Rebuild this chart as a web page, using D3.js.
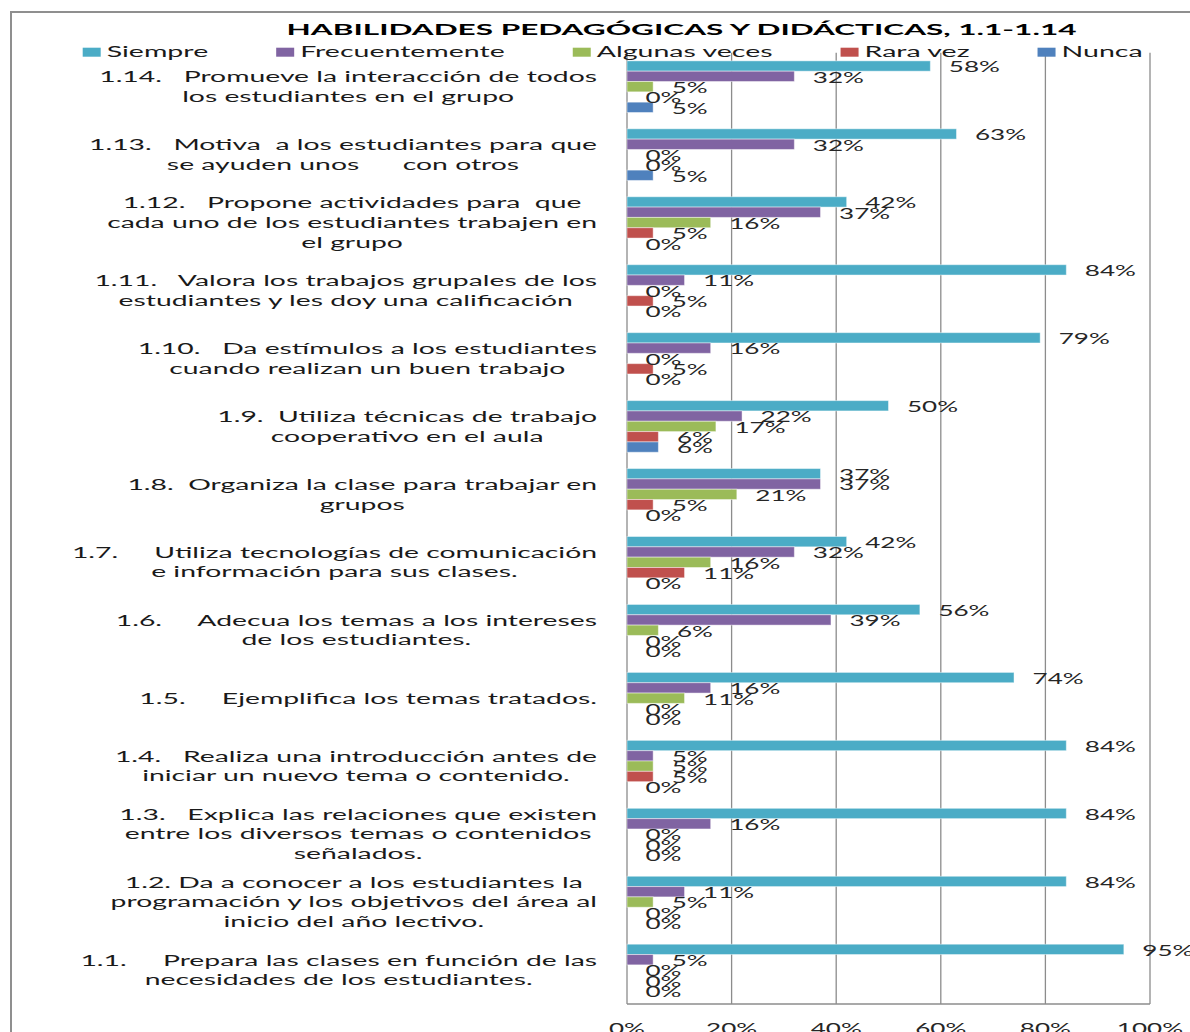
<!DOCTYPE html>
<html>
<head>
<meta charset="utf-8">
<script src="https://cdn.jsdelivr.net/npm/d3@7"></script>
<style>
html,body{margin:0;padding:0;background:#fff;overflow:hidden;}
text{white-space:pre;}
</style>
</head>
<body>
<svg id="chart" width="1190" height="1032"></svg>
<script>
// ---------- DATA ----------
const categories = ["1.14","1.13","1.12","1.11","1.10","1.9","1.8","1.7","1.6","1.5","1.4","1.3","1.2","1.1"];
const categoryLabels = [
  ["1.14.   Promueve la interacción de todos","los estudiantes en el grupo"],
  ["1.13.   Motiva  a los estudiantes para que","se ayuden unos      con otros"],
  ["1.12.   Propone actividades para  que","cada uno de los estudiantes trabajen en","el grupo"],
  ["1.11.   Valora los trabajos grupales de los","estudiantes y les doy una calificación"],
  ["1.10.   Da estímulos a los estudiantes","cuando realizan un buen trabajo"],
  ["1.9.  Utiliza técnicas de trabajo","cooperativo en el aula"],
  ["1.8.  Organiza la clase para trabajar en","grupos"],
  ["1.7.     Utiliza tecnologías de comunicación","e información para sus clases."],
  ["1.6.     Adecua los temas a los intereses","de los estudiantes."],
  ["1.5.     Ejemplifica los temas tratados."],
  ["1.4.   Realiza una introducción antes de","iniciar un nuevo tema o contenido."],
  ["1.3.   Explica las relaciones que existen","entre los diversos temas o contenidos","señalados."],
  ["1.2. Da a conocer a los estudiantes la","programación y los objetivos del área al","inicio del año lectivo."],
  ["1.1.     Prepara las clases en función de las","necesidades de los estudiantes."]
];
const seriesNames = ["Siempre","Frecuentemente","Algunas veces","Rara vez","Nunca"];
const siempre        = [58,63,42,84,79,50,37,42,56,74,84,84,84,95];
const frecuentemente = [32,32,37,11,16,22,37,32,39,16, 5,16,11, 5];
const algunasVeces   = [ 5, 0,16, 0, 0,17,21,16, 6,11, 5, 0, 5, 0];
const raraVez        = [ 0, 0, 5, 5, 5, 6, 5,11, 0, 0, 5, 0, 0, 0];
const nunca          = [ 5, 5, 0, 0, 0, 6, 0, 0, 0, 0, 0, 0, 0, 0];
const xTicks = [0,20,40,60,80,100];
const titleText = "HABILIDADES PEDAGÓGICAS Y DIDÁCTICAS, 1.1-1.14";

const seriesValues = [siempre, frecuentemente, algunasVeces, raraVez, nunca];
const colors = ["#4BACC6","#8064A2","#9BBB59","#C0504D","#4F81BD"];

// ---------- LAYOUT ----------
const FONT = "Lato, 'Open Sans', sans-serif";
const SX_TITLE = 1.97, SX_LEG = 1.84, SX_CAT = 1.89, SX_NUM = 1.63;
const svg = d3.select("#chart");

const x = d3.scaleLinear().domain([0,100]).range([627,1150]);
const y = d3.scaleBand().domain(categories).range([52.7,1004]).paddingInner(0.24).paddingOuter(0.12);
const ys = d3.scaleBand().domain(seriesNames).range([0,y.bandwidth()]);

// frame
svg.append("path").attr("d","M11,1032 V12 H1190").attr("fill","none").attr("stroke","#8f8f8f").attr("stroke-width",2);

// gridlines
const grid = svg.append("g");
grid.selectAll("line").data(xTicks).join("line")
  .attr("x1",d=>x(d)).attr("x2",d=>x(d))
  .attr("y1",52.7).attr("y2",1004)
  .attr("stroke","#8c8c8c").attr("stroke-width",1.3);
grid.append("line").attr("x1",x(0)).attr("x2",x(100)).attr("y1",1004).attr("y2",1004)
  .attr("stroke","#8c8c8c").attr("stroke-width",1.3);

// helper for stretched text
function sText(parent, txt, tx, ty, opts){
  return parent.append("text")
    .attr("transform",`translate(${tx},${ty}) scale(${opts.sx},1)`)
    .attr("x",0).attr("y",0)
    .attr("font-family",FONT)
    .attr("font-size",opts.size)
    .attr("font-weight",opts.weight||"normal")
    .attr("fill",opts.fill||"#1a1a1a")
    .attr("text-anchor",opts.anchor||"start")
    .text(txt);
}

// bars
const rows = svg.append("g");
categories.forEach((c,i)=>{
  const g = rows.append("g").attr("transform",`translate(0,${y(c)})`);
  seriesNames.forEach((s,k)=>{
    const v = seriesValues[k][i];
    if (v>0){
      g.append("rect")
        .attr("x",x(0)).attr("y",ys(s))
        .attr("width",x(v)-x(0)).attr("height",ys.bandwidth())
        .attr("fill",colors[k])
        .attr("stroke","#ffffff").attr("stroke-opacity",0.45).attr("stroke-width",1);
    }
  });
});
// data labels
categories.forEach((c,i)=>{
  seriesNames.forEach((s,k)=>{
    const v = seriesValues[k][i];
    const cy = y(c)+ys(s)+ys.bandwidth()/2;
    sText(svg, v+"%", x(v)+18.5, cy+6.3, {size:16, sx:SX_NUM, fill:"#262626"});
  });
});

// category labels
const labG = svg.append("g");
categories.forEach((c,i)=>{
  const lines = categoryLabels[i];
  const cy = y(c)+y.bandwidth()/2;
  const tmp = sText(labG, "", 0, 0, {size:15, sx:SX_CAT});
  let maxW = 0;
  lines.forEach(l=>{ tmp.text(l); maxW = Math.max(maxW, tmp.node().getComputedTextLength()*SX_CAT); });
  tmp.remove();
  const cx = 597 - maxW/2;
  const n = lines.length;
  lines.forEach((l,j)=>{
    sText(labG, l, cx, cy+5.35+(j-(n-1)/2)*19.6, {size:15, sx:SX_CAT, anchor:"middle"});
  });
});

// x tick labels
xTicks.forEach(t=>{
  sText(svg, t+"%", x(t), 1033.5, {size:16, sx:SX_NUM, anchor:"middle", fill:"#262626"});
});

// title
sText(svg, titleText, 681.5, 35, {size:16, sx:SX_TITLE, weight:"bold", anchor:"middle", fill:"#000"});

// legend
const leg = svg.append("g");
let lx = 82.7;
seriesNames.forEach((s,k)=>{
  leg.append("rect").attr("x",lx).attr("y",47.7).attr("width",18).attr("height",9).attr("fill",colors[k]);
  const t = sText(leg, s, lx+24, 56.7, {size:15.5, sx:SX_LEG});
  const w = t.node().getComputedTextLength()*SX_LEG;
  lx = lx + 24 + w + 68;
});
</script>
</body>
</html>
